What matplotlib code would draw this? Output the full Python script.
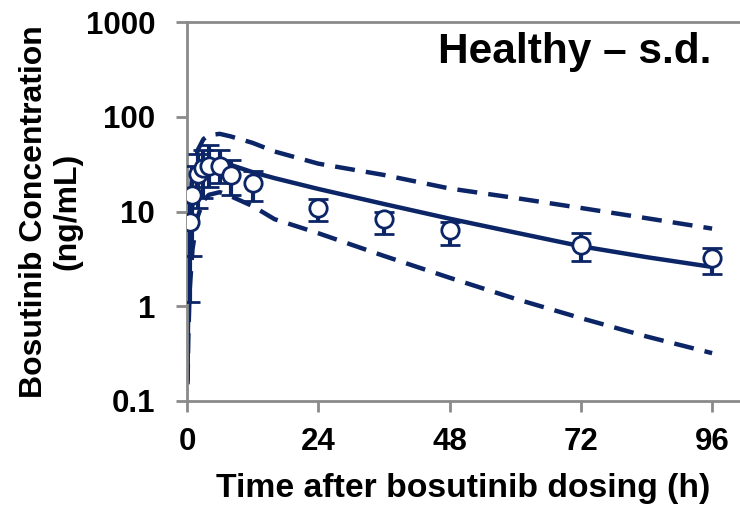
import numpy as np
from matplotlib import pyplot as plt

plt.rcParams['font.family'] = ['Liberation Sans', 'DejaVu Sans']
plt.rcParams['font.weight'] = 'bold'

## observed data (mean and spread)
obs_t = [0.5, 1, 2, 3, 4, 6, 8, 12, 24, 36, 48, 72, 96]
obs_mean = [7.8, 15, 25, 29, 30, 30, 24, 20, 11, 8.3, 6.4, 4.4, 3.2]
obs_lo = [1.1, 3.4, 11, 14, 18, 20, 15, 13, 7.9, 5.8, 4.4, 3.0, 2.2]
obs_hi = [16, 30, 40, 45, 50, 45, 35, 27, 13.5, 10, 7.8, 5.9, 4.1]

## model prediction (median and 5th/95th percentiles)
model_t = [0.1, 0.25, 0.5, 1, 2, 3, 4, 6, 8, 12, 16, 24, 36, 48, 60, 72, 84, 96]
model_med = [0.17, 2.5, 6, 12, 21, 27, 31, 33, 31, 26, 22.5, 17.3, 12, 8.4, 6, 4.3, 3.3, 2.6]
model_hi = [0.2, 5, 12, 25, 45, 58, 64, 66, 62, 53, 43, 32, 24.3, 17.5, 13.9, 10.9, 8.5, 6.6]
model_lo = [0.15, 0.5, 1.5, 4, 9, 13, 15, 16, 14.5, 11.4, 8.3, 5.9, 3.4, 2.0, 1.2, 0.75, 0.48, 0.32]

navy = '#0b2566'
grey = '#8a8a8a'

fig = plt.figure(figsize=(7.4, 5.05), dpi=100)
ax = fig.add_axes([187/740, 104/505, 553/740, 379/505])

ax.plot(model_t, model_med, color=navy, lw=3.2, zorder=2)
ax.plot(model_t, model_hi, color=navy, lw=3.2, dashes=(4.5, 2.5), zorder=2)
ax.plot(model_t, model_lo, color=navy, lw=3.2, dashes=(4.5, 2.5), zorder=2)

m = np.array(obs_mean)
yerr = [m - np.array(obs_lo), np.array(obs_hi) - m]
ax.errorbar(obs_t, obs_mean, yerr=yerr, fmt='o', color=navy, ms=12.5,
            mfc='white', mec=navy, mew=2, elinewidth=3, capsize=7,
            capthick=5, zorder=3)

ax.set_yscale('log')
ax.set_ylim(0.1, 1000)
ax.set_xlim(0, 101.1)
ax.set_xticks([0, 24, 48, 72, 96])
ax.set_yticks([0.1, 1, 10, 100, 1000])
ax.set_yticklabels(['0.1', '1', '10', '100', '1000'])
ax.minorticks_off()

for s in ['left', 'bottom', 'top']:
    ax.spines[s].set_color(grey)
    ax.spines[s].set_linewidth(2)
ax.spines['right'].set_visible(False)
ax.tick_params(axis='both', colors=grey, width=2, length=8,
               labelsize=22.5, labelcolor='black')
ax.tick_params(axis='y', pad=15)
ax.tick_params(axis='x', pad=11)

ax.set_xlabel('Time after bosutinib dosing (h)', fontsize=24.3,
              fontweight='bold', labelpad=11)
ax.set_ylabel('Bosutinib Concentration\n(ng/mL)', fontsize=23,
              fontweight='bold', linespacing=1.15, labelpad=2)

ax.text(0.949, 0.921, 'Healthy \u2013 s.d.', transform=ax.transAxes,
        ha='right', va='center', fontsize=30.5, fontweight='bold')

plt.savefig('out.png', dpi=100)
